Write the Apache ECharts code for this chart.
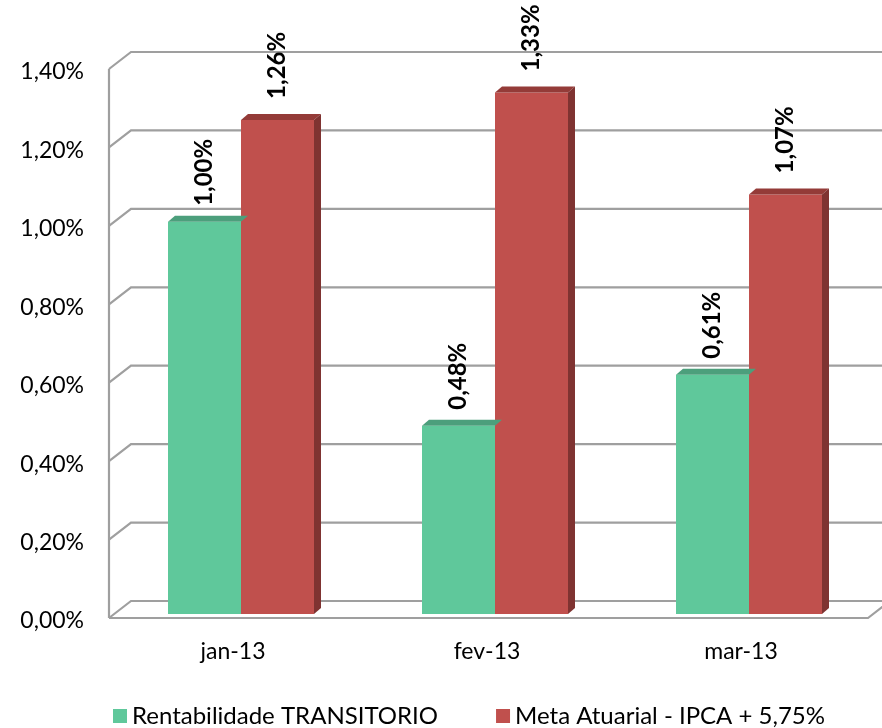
<!DOCTYPE html>
<html>
<head>
<meta charset="utf-8">
<script src="https://cdn.jsdelivr.net/npm/echarts@6/dist/echarts.min.js"></script>
<style>
html,body{margin:0;padding:0;background:#fff;}
#chart{width:882px;height:728px;}
</style>
</head>
<body>
<div id="chart"></div>
<script>
var categories = ['jan-13', 'fev-13', 'mar-13'];
var rentabilidade = [1.00, 0.48, 0.61];
var metaAtuarial = [1.26, 1.33, 1.07];
var yTicks = [0, 0.2, 0.4, 0.6, 0.8, 1.0, 1.2, 1.4];
var seriesNames = ['Rentabilidade TRANSITORIO', 'Meta Atuarial - IPCA + 5,75%'];

var FONT = 'Lato, "Open Sans", sans-serif';
var GREEN = '#5fc89b', GREEN_TOP = '#4c9f7c';
var RED = '#c0504d', RED_TOP = '#943b38', RED_SIDE = '#7f3331';
var DX = 7, DY = 6;
var BAR_FRAC = 73 / 254;

function pct(v) { return v.toFixed(2).replace('.', ',') + '%'; }

function faces(offsetSign, topColor, sideColor) {
  return function (params, api) {
    var i = api.value(0), v = api.value(1);
    var c = api.coord([i, v]);
    var b = api.coord([i, 0]);
    var bw = api.size([1, 0])[0] * BAR_FRAC;
    var x0 = offsetSign < 0 ? c[0] - bw : c[0];
    var x1 = x0 + bw;
    var yt = c[1], yb = b[1];
    var children = [{
      type: 'polygon',
      shape: { points: [[x0, yt], [x0 + DX, yt - DY], [x1 + DX, yt - DY], [x1, yt]] },
      style: { fill: topColor }
    }];
    if (sideColor) {
      children.push({
        type: 'polygon',
        shape: { points: [[x1, yt], [x1 + DX, yt - DY], [x1 + DX, yb - DY], [x1, yb]] },
        style: { fill: sideColor }
      });
    }
    return { type: 'group', children: children };
  };
}

var chart = echarts.init(document.getElementById('chart'));
var option = {
  backgroundColor: '#fff',
  animation: false,
  grid: { left: 114, right: 6, top: 65, bottom: 114 },
  legend: {
    data: seriesNames,
    left: 108, top: 699,
    itemWidth: 14, itemHeight: 14, itemGap: 58,
    icon: 'rect',
    textStyle: { fontFamily: FONT, fontSize: 24, color: '#000' }
  },
  xAxis: {
    type: 'category',
    data: categories,
    axisLine: { show: false },
    axisTick: { show: false },
    axisLabel: { fontFamily: FONT, fontSize: 23, color: '#000', margin: 26, padding: [0, 16, 0, 0] }
  },
  yAxis: {
    type: 'value',
    min: 0, max: 1.4, interval: 0.2,
    axisLine: { show: false },
    axisTick: { show: false },
    splitLine: { show: false },
    axisLabel: { fontFamily: FONT, fontSize: 23, color: '#000', margin: 30, verticalAlign: 'top', lineHeight: 14, formatter: pct }
  },
  series: [
    {
      type: 'custom',
      name: 'walls',
      z: 0,
      silent: true,
      data: yTicks.map(function (t) { return [0, t]; }),
      renderItem: function (params, api) {
        var v = api.value(1);
        var y = api.coord([0, v])[1];
        var cs = params.coordSys;
        var xf = cs.x - 5, xb = cs.x + 17, xr = cs.x + cs.width + 10;
        var st = { stroke: '#9f9f9f', lineWidth: 2.2, fill: null };
        var ch = [{ type: 'polyline', shape: { points: [[xf, y + 4], [xb, y - 13], [xr, y - 13]] }, style: st }];
        if (v === 0) {
          ch.push({ type: 'polyline', shape: { points: [[xf, y + 4], [cs.x + cs.width - 8, y + 4], [cs.x + cs.width + 14, y - 13]] }, style: st });
          var yTop = api.coord([0, 1.4])[1];
          ch.push({ type: 'line', shape: { x1: xf, y1: yTop + 4, x2: xf, y2: y + 4 }, style: st });
        }
        return { type: 'group', children: ch };
      }
    },
    {
      type: 'bar',
      name: seriesNames[0],
      data: rentabilidade,
      barWidth: 73,
      barGap: '0%',
      itemStyle: { color: GREEN },
      label: {
        show: true, position: 'top', rotate: 90, align: 'left', verticalAlign: 'middle',
        distance: 15, offset: [1, 0],
        fontFamily: FONT, fontSize: 24, fontWeight: 'bold', color: '#000',
        formatter: function (p) { return pct(p.value); }
      }
    },
    {
      type: 'bar',
      name: seriesNames[1],
      data: metaAtuarial,
      barWidth: 73,
      barGap: '0%',
      itemStyle: { color: RED },
      label: {
        show: true, position: 'top', rotate: 90, align: 'left', verticalAlign: 'middle',
        distance: 15, offset: [6, 0],
        fontFamily: FONT, fontSize: 24, fontWeight: 'bold', color: '#000',
        formatter: function (p) { return pct(p.value); }
      }
    },
    {
      type: 'custom',
      name: 'greenFaces',
      z: 3,
      silent: true,
      data: rentabilidade.map(function (v, i) { return [i, v]; }),
      renderItem: faces(-1, GREEN_TOP, null)
    },
    {
      type: 'custom',
      name: 'redFaces',
      z: 3,
      silent: true,
      data: metaAtuarial.map(function (v, i) { return [i, v]; }),
      renderItem: faces(1, RED_TOP, RED_SIDE)
    }
  ]
};
chart.setOption(option);
</script>
</body>
</html>
